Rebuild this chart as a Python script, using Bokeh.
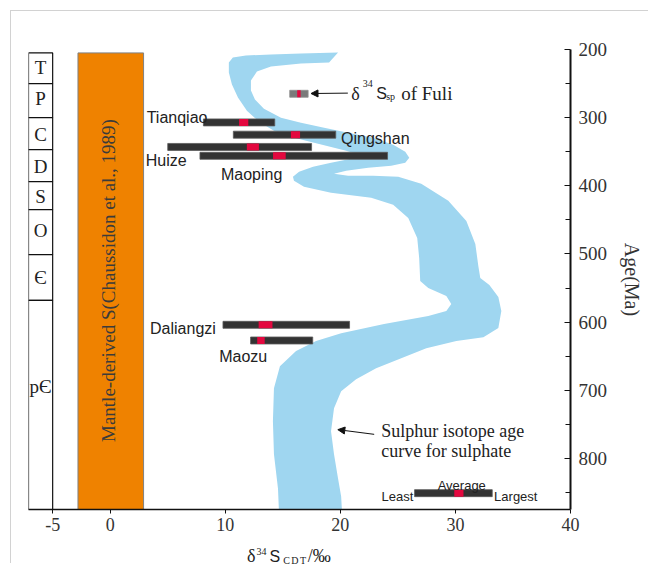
import math
from bokeh.plotting import figure
from bokeh.layouts import column
from bokeh.models import Range1d, FixedTicker, Label, Arrow, NormalHead, ColumnDataSource, Div
from bokeh.embed import file_html
from bokeh.resources import INLINE
from bokeh.core.properties import value

# ---------------- data ----------------
periods = ["T", "P", "C", "D", "S", "O", "Є", "pЄ"]
period_top = [205, 250, 300, 347, 394, 435, 501, 568]
period_bottom = [250, 300, 347, 394, 435, 501, 568, 875]
period_label_age = [226, 272, 324, 371, 415, 466, 535, 694]

mantle_low, mantle_high = -2.8, 2.9
mantle_top_age = 205
mantle_text = "Mantle-derived S(Chaussidon et al., 1989)"

deposits = ["Tianqiao", "Qingshan", "Huize", "Maoping", "Daliangzi", "Maozu"]
dep_age = [307, 325, 343, 356, 604, 627]
dep_min = [8.1, 10.7, 5.0, 7.8, 9.8, 12.2]
dep_max = [14.3, 19.6, 17.5, 24.1, 20.8, 17.6]
dep_avg = [11.6, 16.1, 12.4, 14.7, 13.5, 13.1]

fuli_age, fuli_min, fuli_max, fuli_avg = 265, 15.6, 17.2, 16.4
legend_age, legend_min, legend_max, legend_avg = 851, 26.45, 33.2, 30.3

# sulphate sulphur isotope age curve (outline of the band)
band_x = [10.31, 10.66, 11.79, 13.97, 16.58, 19.80, 19.02, 16.58, 13.97, 12.75,
          12.23, 12.23, 12.58, 13.36, 14.84, 16.58, 18.59, 20.67, 22.85, 24.59,
          25.64, 25.99, 25.64, 24.42, 22.42, 20.50, 19.45, 20.67, 22.85, 25.03,
          27.03, 29.38, 30.95, 31.73, 31.99, 32.16, 32.95, 33.73, 33.99, 33.73,
          32.43, 30.08, 27.47, 25.29, 23.11, 21.37, 20.07, 19.45, 19.19, 19.45,
          19.80, 20.07, 20.15, 14.67, 14.58, 14.23, 14.14, 14.23, 14.75, 16.15,
          17.89, 20.07, 23.80, 27.64, 29.21, 29.64, 29.21, 27.64, 26.94, 26.85,
          26.68, 25.90, 24.59, 22.68, 19.19, 16.84, 15.97, 15.88, 16.41, 17.63,
          19.19, 20.93, 21.97, 20.50, 18.76, 17.02, 15.71, 14.23, 12.93, 11.88,
          11.10, 10.58, 10.31]
band_age = [219.1, 211.8, 208.8, 207.4, 205.9, 204.4, 219.1, 220.6, 225.0, 232.4,
            245.6, 260.3, 273.5, 286.8, 300.0, 307.4, 314.7, 322.1, 329.4, 339.7,
            350.0, 358.8, 366.2, 370.6, 373.5, 377.9, 382.4, 385.3, 385.3, 386.8,
            397.1, 422.1, 451.5, 485.3, 517.6, 535.3, 545.6, 563.2, 583.8, 608.8,
            622.1, 627.9, 638.2, 652.9, 667.6, 683.8, 701.5, 726.5, 760.3, 794.1,
            829.4, 855.9, 880.0, 880.0, 844.1, 794.1, 745.6, 697.1, 664.7, 642.6,
            627.9, 616.2, 602.9, 591.2, 583.8, 573.5, 561.8, 550.0, 539.7, 505.9,
            476.5, 447.1, 427.9, 417.6, 410.3, 401.5, 392.6, 386.8, 379.4, 372.1,
            366.2, 360.3, 355.9, 348.5, 341.2, 333.8, 327.9, 319.1, 305.9, 289.7,
            270.6, 251.5, 233.8]

x_ticks = [-5, 0, 10, 20, 30, 40]
age_ticks = [200, 300, 400, 500, 600, 700, 800]
age_minor = [250, 350, 450, 550, 650, 750, 850]

# ---------------- style / layout ----------------
SERIF = "Liberation Serif"
SANS = "Liberation Sans"
TXT = "#222222"
X0, X1 = -7.1, 40
Y_BOTTOM, Y_TOP = 875, 200
mark_w = [0.8, 0.8, 1.05, 1.1, 1.2, 0.65]
BAR_H = 7

p = figure(width=638, height=527, x_range=Range1d(X0, X1), y_range=Range1d(Y_BOTTOM, Y_TOP),
           output_backend="svg", toolbar_location=None, y_axis_location="right",
           min_border_left=17, min_border_right=79, min_border_top=38, min_border_bottom=29)
p.outline_line_color = None
p.xgrid.visible = False
p.ygrid.visible = False
p.background_fill_color = "white"

xa = p.xaxis[0]
xa.ticker = FixedTicker(ticks=x_ticks)
xa.major_label_overrides = {t: str(t) for t in x_ticks}
xa.axis_line_width = 1.5
xa.axis_line_color = "#111111"
xa.major_tick_out = 4
xa.major_tick_in = 0
xa.minor_tick_out = 0
xa.minor_tick_in = 0
xa.major_tick_line_color = "#111111"
xa.major_label_text_font = SERIF
xa.major_label_text_font_size = "18px"
xa.major_label_text_color = "#333333"
xa.major_label_standoff = 4

ya = p.yaxis[0]
ya.ticker = FixedTicker(ticks=age_ticks, minor_ticks=age_minor)
ya.axis_line_width = 2
ya.axis_line_color = "#111111"
ya.major_tick_in = 6
ya.major_tick_out = 0
ya.minor_tick_in = 5
ya.minor_tick_out = 0
ya.major_tick_line_color = "#111111"
ya.minor_tick_line_color = "#111111"
ya.major_label_text_font = SERIF
ya.major_label_text_font_size = "19px"
ya.major_label_text_color = "#333333"
ya.major_label_standoff = 8
ya.axis_label = "Age(Ma)"
ya.axis_label_text_font = SERIF
ya.axis_label_text_font_style = "normal"
ya.axis_label_text_font_size = "20px"
ya.axis_label_text_color = "#333333"
ya.axis_label_standoff = 11

# band
p.patch(band_x, band_age, fill_color="#9fd6f0", line_color=None)

# geological column
p.quad(left=X0, right=-5, top=period_top, bottom=period_bottom,
       fill_color="white", line_color="#111111", line_width=1.2)
p.text(x=[(X0 - 5) / 2] * len(periods), y=period_label_age, text=periods,
       text_font=value(SERIF), text_font_size="19px", text_color=TXT,
       text_align="center", text_baseline="middle")

# mantle-derived S
p.quad(left=mantle_low, right=mantle_high, top=mantle_top_age, bottom=Y_BOTTOM,
       fill_color="#ef8200", line_color="#808080", line_width=1)
p.text(x=[(mantle_low + mantle_high) / 2 - 0.2], y=[(mantle_top_age + Y_BOTTOM) / 2 - 1],
       text=[mantle_text], angle=math.pi / 2, text_font=value(SERIF), text_font_size="19px",
       text_color="#3b3b3b", text_align="center", text_baseline="middle")

# deposit ranges
src = ColumnDataSource(dict(
    mid=[(a + b) / 2 for a, b in zip(dep_min, dep_max)],
    w=[b - a for a, b in zip(dep_min, dep_max)],
    age=dep_age, avg=dep_avg, mw=mark_w))
p.rect(x="mid", y="age", width="w", height=BAR_H, height_units="screen", source=src,
       fill_color="#333333", line_color="#5a5a5a", line_width=0.8)
p.rect(x="avg", y="age", width="mw", height=BAR_H, height_units="screen", source=src,
       fill_color="#e3083f", line_color=None)

# Fuli
p.rect(x=[(fuli_min + fuli_max) / 2], y=[fuli_age], width=[fuli_max - fuli_min], height=BAR_H,
       height_units="screen", fill_color="#7a7a7a", line_color="#909090", line_width=0.8)
p.rect(x=[fuli_avg], y=[fuli_age], width=[0.3], height=BAR_H, height_units="screen",
       fill_color="#e3083f", line_color=None)

# legend bar
p.rect(x=[(legend_min + legend_max) / 2], y=[legend_age], width=[legend_max - legend_min],
       height=BAR_H, height_units="screen", fill_color="#333333", line_color="#5a5a5a", line_width=0.8)
p.rect(x=[legend_avg], y=[legend_age], width=[0.8], height=BAR_H, height_units="screen",
       fill_color="#e3083f", line_color=None)

# deposit labels
lab_x = [3.17, 20.06, 3.09, 9.62, 3.46, 9.47]
lab_y = [299.3, 329.9, 363.2, 382.8, 609.3, 650.0]
p.text(x=lab_x, y=lab_y, text=deposits, text_font=value(SANS), text_font_size="16px",
       text_color=TXT, text_align="left", text_baseline="alphabetic")

# legend labels
p.text(x=[26.35], y=[855.9], text=["Least"], text_font=value(SANS), text_font_size="13px",
       text_color=TXT, text_align="right", text_baseline="alphabetic")
p.text(x=[30.55], y=[839.7], text=["Average"], text_font=value(SANS), text_font_size="13px",
       text_color=TXT, text_align="center", text_baseline="alphabetic")
p.text(x=[33.36], y=[855.9], text=["Largest"], text_font=value(SANS), text_font_size="13px",
       text_color=TXT, text_align="left", text_baseline="alphabetic")

def lab(x, y, t, font, size):
    p.add_layout(Label(x=x, y=y, text=t, text_font=font, text_font_size=size,
                       text_color=TXT, text_align="left", text_baseline="alphabetic"))

# Fuli annotation
lab(20.94, 264.7, "δ", SERIF, "18px")
lab(21.95, 250.4, "34", SERIF, "10px")
lab(23.11, 264.7, "S", SANS, "16px")
lab(23.98, 268.4, "sp", SERIF, "10px")
lab(25.29, 264.7, "of Fuli", SERIF, "19px")
p.add_layout(Arrow(end=NormalHead(size=7, fill_color="#111111", line_color="#111111"),
                   x_start=20.65, y_start=264.0, x_end=17.45, y_end=264.6,
                   line_color="#111111", line_width=1))

# curve annotation
lab(23.55, 759.3, "Sulphur isotope age", SERIF, "18px")
lab(23.55, 788.7, "curve for sulphate", SERIF, "18px")
p.add_layout(Arrow(end=NormalHead(size=7, fill_color="#111111", line_color="#111111"),
                   x_start=22.94, y_start=764.7, x_end=19.78, y_end=757.8,
                   line_color="#111111", line_width=1))

# x-axis title (with super/subscripts) below the plot
xtitle = Div(
    text=('<div style="padding-top:4px;line-height:20px;color:#222;white-space:nowrap;'
          'font-family:\'Liberation Serif\';font-size:18px">'
          'δ<span style="font-size:10px;vertical-align:7px;margin-left:1px">34</span>'
          '<span style="font-family:\'Liberation Sans\';font-size:16px;margin-left:3px">S</span>'
          '<span style="font-size:10px;vertical-align:-2px;margin-left:3px;letter-spacing:1.5px">CDT</span>/‰</div>'),
    width=120, height=25, margin=(0, 0, 0, 236))

layout = column(p, xtitle, margin=(10, 0, 0, 10),
                styles={"border-left": "1px solid #d2d2d2", "border-top": "1px solid #d2d2d2"})

open("out.html", "w").write(file_html(layout, INLINE))
